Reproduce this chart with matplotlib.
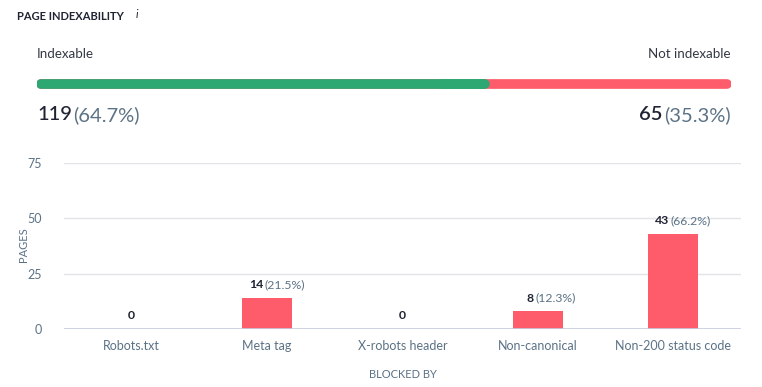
import matplotlib.pyplot as plt

plt.rcParams['font.family'] = ['Lato', 'DejaVu Sans']

# data
categories = ['Robots.txt', 'Meta tag', 'X-robots header', 'Non-canonical', 'Non-200 status code']
pages = [0, 14, 0, 8, 43]
shares = [None, 21.5, None, 12.3, 66.2]
indexable = 119
not_indexable = 65
indexable_pct = 64.7
not_indexable_pct = 35.3
yticks = [0, 25, 50, 75]

green = '#2ea872'
red = '#ff5c6b'
label_col = '#5b7285'
dark = '#1f2333'

fig = plt.figure(figsize=(7.62, 3.87), dpi=100)
W, H = 762, 387

def fx(px):
    return px / W

def fy(py):
    return 1 - py / H

# header texts
fig.text(fx(17), fy(17), 'PAGE INDEXABILITY', fontsize=8, fontweight='bold', color=dark, va='center')
fig.text(fx(136), fy(15), 'i', fontsize=8, style='italic', color=dark, va='center')
fig.text(fx(37), fy(54), 'Indexable', fontsize=9.6, color='#333844', va='center')
fig.text(fx(731), fy(54), 'Not indexable', fontsize=9.6, color='#333844', va='center', ha='right')

# indexability bar
total = indexable + not_indexable
axb = fig.add_axes([fx(37), fy(90), fx(731) - fx(37), fy(78) - fy(90)])
axb.set_ylim(-1, 1)
axb.axis('off')
axb.plot([0, total], [0, 0], color=red, lw=7, solid_capstyle='round')
axb.plot([0, indexable], [0, 0], color=green, lw=7, solid_capstyle='round')
axb.plot([indexable * 0.9, indexable], [0, 0], color=green, lw=7, solid_capstyle='butt')
axb.set_xlim(-total * 0.006, total * 1.006)

# counts
t1 = fig.text(fx(37), fy(115), str(indexable), fontsize=14.5, color=dark, va='center', fontweight='medium')
fig.canvas.draw()
bb = t1.get_window_extent()
fig.text(bb.x1 / W + 0.002, fy(115), '(%.1f%%)' % indexable_pct, fontsize=14.5, color=label_col, va='center')
t2 = fig.text(fx(731), fy(115), '(%.1f%%)' % not_indexable_pct, fontsize=14.5, color=label_col, va='center', ha='right')
fig.canvas.draw()
bb = t2.get_window_extent()
fig.text(bb.x0 / W - 0.002, fy(115), str(not_indexable), fontsize=14.5, color=dark, va='center', ha='right',
         fontweight='semibold')

# bar chart
ax = fig.add_axes([fx(64), fy(329), fx(741) - fx(64), fy(163) - fy(329)])
x = range(len(categories))
ax.bar(x, pages, width=0.37, color=red, zorder=3)
ax.set_xlim(-0.5, len(categories) - 0.5)
ax.set_ylim(0, 75)
ax.set_yticks(yticks)
ax.set_xticks(list(x))
ax.set_xticklabels(categories)
ax.tick_params(axis='both', length=0, labelsize=9, colors=label_col)
ax.tick_params(axis='y', pad=16)
ax.tick_params(axis='x', pad=8)
for t in yticks[1:]:
    ax.axhline(t, color='#e1e4e9', lw=1, zorder=1)
ax.axhline(0, color='#c6cce0', lw=1.2, zorder=4)
for s in ax.spines.values():
    s.set_visible(False)
fig.text(fx(24), fy(245), 'PAGES', fontsize=8, color=label_col, rotation=90, ha='center', va='center')
ax.set_xlabel('BLOCKED BY', fontsize=8, color=label_col, labelpad=12)

for i, v in enumerate(pages):
    ty = v + 6
    if shares[i] is None:
        ax.text(i, ty, str(v), ha='center', va='center', fontsize=8.8, color=dark, fontweight='bold')
    else:
        ax.annotate(str(v), (i, ty), xytext=(-3, 0), textcoords='offset points', ha='right', va='center',
                    fontsize=8.8, color=dark, fontweight='bold')
        ax.annotate('(%.1f%%)' % shares[i], (i, ty), xytext=(-2, 0), textcoords='offset points', ha='left',
                    va='center', fontsize=8.8, color=label_col)

fig.savefig('out.png', dpi=100)
